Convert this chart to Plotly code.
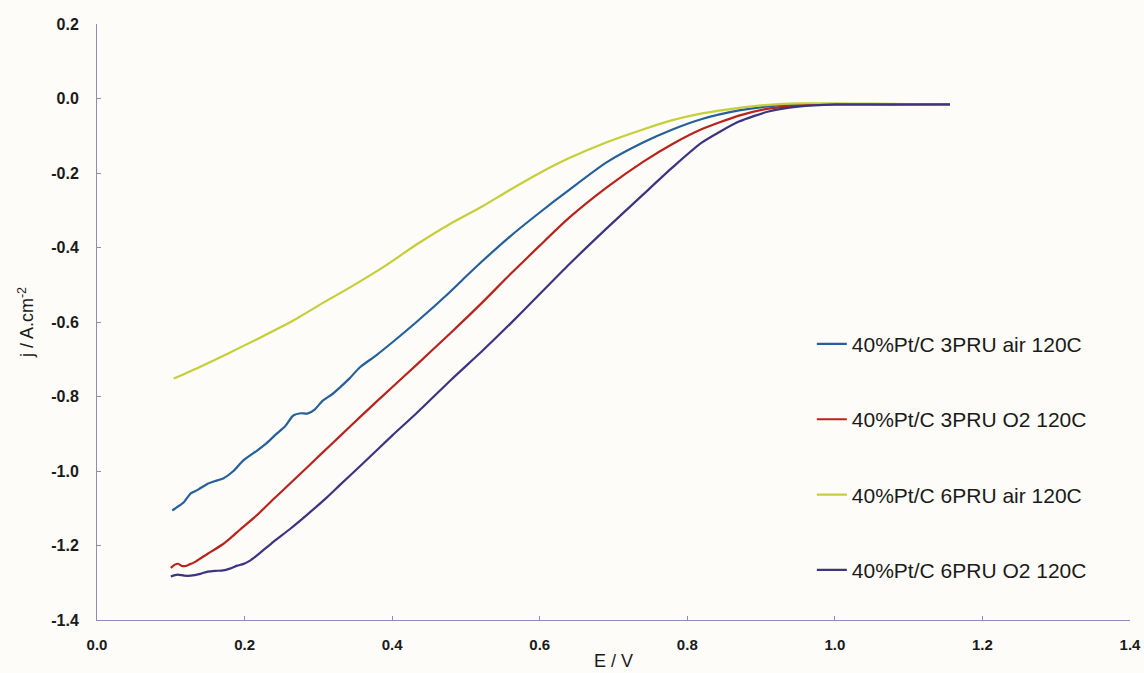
import plotly.graph_objects as go

# ---- data ----
E_3PRU_air = [0.102, 0.110, 0.118, 0.127, 0.137, 0.150, 0.160, 0.171, 0.185, 0.198, 0.217, 0.230,
              0.244, 0.255, 0.266, 0.276, 0.285, 0.295, 0.306, 0.318, 0.329, 0.342, 0.356, 0.378,
              0.400, 0.433, 0.478, 0.500, 0.522, 0.560, 0.600, 0.640, 0.690, 0.740, 0.780, 0.820,
              0.870, 0.910, 0.950, 1.000, 1.050, 1.100, 1.156]
j_3PRU_air = [-1.106, -1.095, -1.083, -1.060, -1.050, -1.034, -1.027, -1.020, -1.000, -0.972, -0.945, -0.925,
              -0.899, -0.880, -0.851, -0.845, -0.846, -0.835, -0.811, -0.795, -0.776, -0.752, -0.722, -0.690,
              -0.655, -0.600, -0.520, -0.478, -0.437, -0.370, -0.306, -0.245, -0.172, -0.118, -0.083, -0.055,
              -0.032, -0.021, -0.016, -0.015, -0.015, -0.016, -0.016]

E_3PRU_O2 = [0.100, 0.105, 0.110, 0.115, 0.120, 0.126, 0.131, 0.140, 0.150, 0.160, 0.171, 0.182, 0.194,
             0.217, 0.240, 0.262, 0.285, 0.306, 0.330, 0.356, 0.400, 0.433, 0.480, 0.522, 0.560,
             0.600, 0.640, 0.690, 0.740, 0.780, 0.820, 0.870, 0.910, 0.950, 1.000, 1.050, 1.100, 1.156]
j_3PRU_O2 = [-1.260, -1.252, -1.249, -1.255, -1.255, -1.250, -1.246, -1.235, -1.222, -1.210, -1.196, -1.178, -1.157,
             -1.118, -1.074, -1.033, -0.990, -0.950, -0.905, -0.856, -0.775, -0.715, -0.628, -0.548, -0.472,
             -0.395, -0.320, -0.240, -0.170, -0.122, -0.082, -0.046, -0.027, -0.019, -0.016, -0.016, -0.016, -0.016]

E_6PRU_air = [0.104, 0.140, 0.177, 0.221, 0.266, 0.312, 0.343, 0.390, 0.433, 0.480, 0.522, 0.560,
              0.600, 0.640, 0.690, 0.740, 0.780, 0.820, 0.870, 0.910, 0.950, 1.000, 1.050, 1.100, 1.156]
j_6PRU_air = [-0.752, -0.720, -0.685, -0.642, -0.596, -0.542, -0.507, -0.450, -0.392, -0.335, -0.290, -0.245,
              -0.200, -0.160, -0.118, -0.083, -0.058, -0.040, -0.025, -0.017, -0.013, -0.013, -0.014, -0.015, -0.016]

E_6PRU_O2 = [0.100, 0.109, 0.118, 0.127, 0.140, 0.150, 0.160, 0.171, 0.180, 0.190, 0.198, 0.208, 0.221,
             0.239, 0.262, 0.285, 0.312, 0.329, 0.356, 0.400, 0.433, 0.480, 0.522, 0.560, 0.600, 0.640,
             0.690, 0.740, 0.780, 0.820, 0.870, 0.910, 0.950, 1.000, 1.050, 1.100, 1.156]
j_6PRU_O2 = [-1.283, -1.278, -1.281, -1.281, -1.276, -1.270, -1.268, -1.267, -1.262, -1.254, -1.250, -1.240, -1.220,
             -1.190, -1.155, -1.117, -1.070, -1.038, -0.988, -0.905, -0.845, -0.755, -0.678, -0.605, -0.525, -0.445,
             -0.350, -0.258, -0.185, -0.118, -0.062, -0.035, -0.022, -0.016, -0.016, -0.016, -0.016]

series_names = ["40%Pt/C 3PRU air 120C", "40%Pt/C 3PRU O2 120C",
                "40%Pt/C 6PRU air 120C", "40%Pt/C 6PRU O2 120C"]
series_colors = ["#25609a", "#b8231c", "#c6cf3a", "#3b3480"]

x_ticks = [0.0, 0.2, 0.4, 0.6, 0.8, 1.0, 1.2, 1.4]
y_ticks = [0.2, 0.0, -0.2, -0.4, -0.6, -0.8, -1.0, -1.2, -1.4]

series = [(E_3PRU_air, j_3PRU_air), (E_3PRU_O2, j_3PRU_O2),
          (E_6PRU_air, j_6PRU_air), (E_6PRU_O2, j_6PRU_O2)]

fig = go.Figure()
for i, ((ex, jy), name, col) in enumerate(zip(series, series_names, series_colors)):
    fig.add_trace(go.Scatter(x=ex, y=jy, mode="lines", name=name,
                             legendgroup=f"g{i}",
                             line=dict(color=col, width=2.2, shape="spline", smoothing=0.6)))

axis_col = "#8d8cb3"
fig.update_layout(
    width=1144, height=673,
    margin=dict(l=97, r=14, t=24, b=53),
    paper_bgcolor="#fdfcf8", plot_bgcolor="#fdfcf8",
    font=dict(family="Liberation Sans, Arial, sans-serif", color="#1a1a1a"),
    showlegend=True,
    legend=dict(x=0.692, y=0.497, xanchor="left", yanchor="top",
                bgcolor="rgba(0,0,0,0)", traceorder="grouped", tracegroupgap=45,
                font=dict(size=21, color="#1a1a1a"), itemwidth=30),
    xaxis=dict(range=[0, 1.4], tickvals=x_ticks, ticktext=[f"{v:.1f}" for v in x_ticks],
               showgrid=False, zeroline=False, showline=True, linecolor=axis_col, linewidth=1,
               ticks="inside", ticklen=4, tickcolor=axis_col, ticklabelstandoff=11,
               automargin=False,
               tickfont=dict(size=15, family="Liberation Sans Narrow, Arial Narrow, Liberation Sans, sans-serif",
                             weight="bold"),
               title=dict(text="E / V", font=dict(size=18), standoff=2)),
    yaxis=dict(range=[-1.4, 0.2], tickvals=y_ticks, ticktext=[f"{v:.1f}" for v in y_ticks],
               showgrid=False, zeroline=False, showline=True, linecolor=axis_col, linewidth=1,
               ticks="inside", ticklen=4, tickcolor=axis_col, ticklabelstandoff=14,
               automargin=False,
               tickfont=dict(size=16, family="Liberation Sans, Arial, sans-serif", weight="bold"),
               title=dict(text="j / A.cm<sup>-2</sup>", font=dict(size=18), standoff=12)),
)

fig.write_html("out.html")
